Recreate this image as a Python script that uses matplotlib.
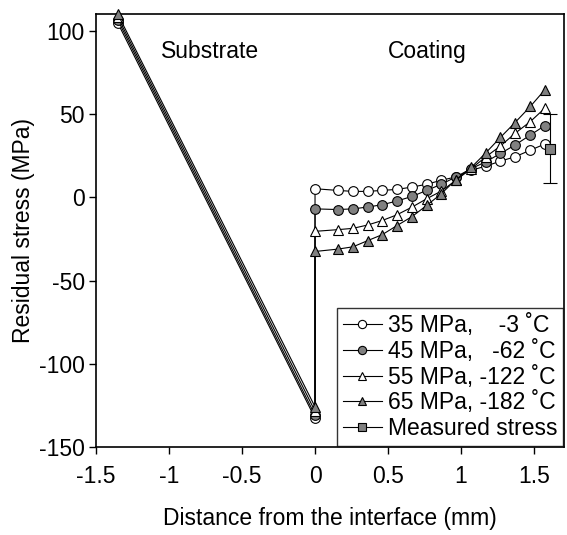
import matplotlib
matplotlib.use("Agg")
import matplotlib.pyplot as plt

plt.rcParams['font.family'] = ['Liberation Sans', 'DejaVu Sans']
plt.rcParams['axes.unicode_minus'] = False

# Substrate end points
sub_x = [-1.35, 0.0]
sub_35 = [104.7, -132.7]
sub_45 = [106.5, -130.9]
sub_55 = [108.2, -128.5]
sub_65 = [110, -125.9]

# Coating profile
coat_x = [0, 0.155, 0.26, 0.36, 0.46, 0.56, 0.665, 0.765, 0.865, 0.965,
          1.07, 1.17, 1.27, 1.37, 1.475, 1.575]
coat_35 = [5.2, 4.2, 3.6, 3.6, 4.2, 4.8, 6.2, 7.9, 10.3, 12.3,
           16.3, 18.8, 21.8, 24.4, 28.4, 32.1]
coat_45 = [-6.9, -7.3, -6.9, -5.8, -4.4, -2.2, 0.6, 4.2, 7.9, 12.3,
           17.3, 21.4, 26.4, 31.5, 37.5, 43.2]
coat_55 = [-20.4, -19.4, -18.6, -16.6, -13.9, -10.5, -5.8, -0.8, 3.8, 10.3,
           17.3, 24.4, 30.9, 38.5, 45.6, 53.7]
coat_65 = [-32.5, -31.1, -29.7, -26.0, -22.4, -17.0, -11.5, -4.8, 2.2, 10.7,
           18.0, 26.8, 36.1, 45.0, 54.7, 64.8]

meas_x = [1.61]
meas_y = [29.2]
meas_err = [20.8]

labels = ["35 MPa,    -3 \u02daC", "45 MPa,   -62 \u02daC",
          "55 MPa, -122 \u02daC", "65 MPa, -182 \u02daC", "Measured stress"]

gray = '#808080'
FS = 16.5
fig = plt.figure(figsize=(5.67, 5.35), dpi=100)
ax = fig.add_axes([0.1693, 0.1645, 0.8254, 0.8093])

series = [(sub_35, coat_35, 'o', 'white'),
          (sub_45, coat_45, 'o', gray),
          (sub_55, coat_55, '^', 'white'),
          (sub_65, coat_65, '^', gray)]
handles = []
for sub, coat, mk, fc, in series:
    xs = sub_x + coat_x
    ys = sub + coat
    h, = ax.plot(xs, ys, color='black', lw=0.8, marker=mk, ms=7,
                 mfc=fc, mec='black', mew=0.8, clip_on=False, zorder=3)
    handles.append(h)

eb = ax.errorbar(meas_x, meas_y, yerr=meas_err, fmt='s', color='black',
                 mfc=gray, mec='black', ms=7, mew=0.8, elinewidth=0.8,
                 capsize=5, capthick=0.8, zorder=4)
for c in eb.get_children():
    c.set_clip_on(False)
hm, = ax.plot([], [], color='black', lw=0.8, marker='s', ms=7, mfc=gray,
              mec='black', mew=0.8)
handles.append(hm)

ax.set_xlim(-1.5, 1.705)
ax.set_ylim(-150, 110.2)
ax.set_xticks([-1.5, -1, -0.5, 0, 0.5, 1, 1.5])
ax.set_xticklabels(['-1.5', '-1', '-0.5', '0', '0.5', '1', '1.5'])
ax.set_yticks([-150, -100, -50, 0, 50, 100])
ax.tick_params(direction='out', length=5, width=1, labelsize=FS,
               top=False, right=False)
ax.tick_params(axis='x', pad=8)
ax.tick_params(axis='y', pad=3)
for s in ax.spines.values():
    s.set_linewidth(1.2)

ax.text(-0.72, 87.4, 'Substrate', fontsize=FS, ha='center', va='center')
ax.text(0.77, 87.4, 'Coating', fontsize=FS, ha='center', va='center')

ax.set_xlabel('Distance from the interface (mm)', fontsize=FS, labelpad=14)
ax.set_ylabel('Residual stress (MPa)', fontsize=FS, labelpad=3)

leg = ax.legend(handles, labels, loc='lower right', fontsize=FS,
                frameon=True, fancybox=False, edgecolor='black',
                handlelength=1.7, handletextpad=0.26, borderpad=0.25,
                labelspacing=0.12, borderaxespad=0.05, markerscale=0.85)
leg.get_frame().set_linewidth(1.0)

fig.savefig('out.png', dpi=100)
